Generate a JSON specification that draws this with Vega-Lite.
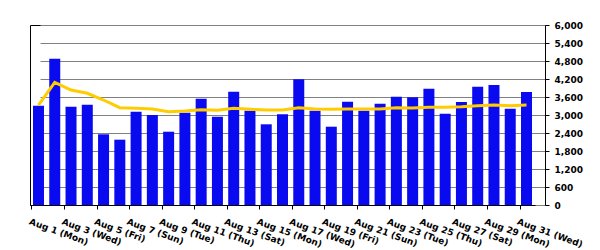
{
  "$schema": "https://vega.github.io/schema/vega-lite/v6.json",
  "width": 515,
  "height": 180,
  "autosize": "none",
  "padding": {"left": 30, "top": 25, "right": 55, "bottom": 45},
  "background": "white",
  "config": {"view": {"stroke": "black", "strokeWidth": 1}, "font": "DejaVu Sans"},
  "data": {"values": [
    {"day": "Aug 1 (Mon)", "visitors": 3310, "average": 3333},
    {"day": "Aug 2 (Tue)", "visitors": 4877, "average": 4090},
    {"day": "Aug 3 (Wed)", "visitors": 3277, "average": 3833},
    {"day": "Aug 4 (Thu)", "visitors": 3343, "average": 3723},
    {"day": "Aug 5 (Fri)", "visitors": 2357, "average": 3500},
    {"day": "Aug 6 (Sat)", "visitors": 2177, "average": 3243},
    {"day": "Aug 7 (Sun)", "visitors": 3110, "average": 3223},
    {"day": "Aug 8 (Mon)", "visitors": 3000, "average": 3200},
    {"day": "Aug 9 (Tue)", "visitors": 2443, "average": 3110},
    {"day": "Aug 10 (Wed)", "visitors": 3077, "average": 3133},
    {"day": "Aug 11 (Thu)", "visitors": 3543, "average": 3177},
    {"day": "Aug 12 (Fri)", "visitors": 2943, "average": 3157},
    {"day": "Aug 13 (Sat)", "visitors": 3777, "average": 3223},
    {"day": "Aug 14 (Sun)", "visitors": 3143, "average": 3190},
    {"day": "Aug 15 (Mon)", "visitors": 2690, "average": 3167},
    {"day": "Aug 16 (Tue)", "visitors": 3023, "average": 3167},
    {"day": "Aug 17 (Wed)", "visitors": 4190, "average": 3243},
    {"day": "Aug 18 (Thu)", "visitors": 3143, "average": 3200},
    {"day": "Aug 19 (Fri)", "visitors": 2610, "average": 3190},
    {"day": "Aug 20 (Sat)", "visitors": 3443, "average": 3200},
    {"day": "Aug 21 (Sun)", "visitors": 3143, "average": 3200},
    {"day": "Aug 22 (Mon)", "visitors": 3377, "average": 3200},
    {"day": "Aug 23 (Tue)", "visitors": 3610, "average": 3243},
    {"day": "Aug 24 (Wed)", "visitors": 3590, "average": 3233},
    {"day": "Aug 25 (Thu)", "visitors": 3877, "average": 3257},
    {"day": "Aug 26 (Fri)", "visitors": 3043, "average": 3257},
    {"day": "Aug 27 (Sat)", "visitors": 3433, "average": 3277},
    {"day": "Aug 28 (Sun)", "visitors": 3943, "average": 3310},
    {"day": "Aug 29 (Mon)", "visitors": 4000, "average": 3333},
    {"day": "Aug 30 (Tue)", "visitors": 3210, "average": 3310},
    {"day": "Aug 31 (Wed)", "visitors": 3767, "average": 3333}
  ]},
  "encoding": {
    "x": {
      "field": "day",
      "type": "ordinal",
      "sort": null,
      "scale": {"range": [0, 505], "paddingInner": 0.324, "paddingOuter": 0.184},
      "axis": {
        "title": null,
        "values": ["Aug 1 (Mon)", "Aug 3 (Wed)", "Aug 5 (Fri)", "Aug 7 (Sun)", "Aug 9 (Tue)", "Aug 11 (Thu)", "Aug 13 (Sat)", "Aug 15 (Mon)", "Aug 17 (Wed)", "Aug 19 (Fri)", "Aug 21 (Sun)", "Aug 23 (Tue)", "Aug 25 (Thu)", "Aug 27 (Sat)", "Aug 29 (Mon)", "Aug 31 (Wed)"],
        "labelAngle": 20,
        "labelAlign": "left",
        "labelBaseline": "top",
        "labelOffset": -1,
        "tickOffset": -7,
        "labelFont": "DejaVu Sans",
        "labelFontWeight": "bold",
        "labelFontSize": 9,
        "labelColor": "black",
        "labelPadding": 8,
        "tickSize": 4,
        "tickColor": "black",
        "domainColor": "black",
        "labelOverlap": false
      }
    }
  },
  "layer": [
    {
      "mark": {"type": "bar", "color": "#0a0af0"},
      "encoding": {
        "y": {
          "field": "visitors",
          "type": "quantitative",
          "title": null,
          "scale": {"domain": [0, 6000], "nice": false},
          "axis": {
            "orient": "right",
            "title": null,
            "values": [0, 600, 1200, 1800, 2400, 3000, 3600, 4200, 4800, 5400, 6000],
            "format": ",.0f",
            "labelFont": "DejaVu Sans",
            "labelFontWeight": "bold",
            "labelFontSize": 9,
            "labelColor": "black",
            "labelPadding": 5,
            "tickSize": 4,
            "tickColor": "black",
            "domainColor": "black",
            "grid": true,
            "gridColor": "#808080",
            "gridOpacity": 1
          }
        }
      }
    },
    {
      "mark": {"type": "line", "color": "#ffcc00", "strokeWidth": 3},
      "encoding": {
        "y": {
          "field": "average",
          "type": "quantitative",
          "title": null,
          "scale": {"domain": [0, 6000], "nice": false},
          "axis": {
            "orient": "right",
            "title": null,
            "values": [0, 600, 1200, 1800, 2400, 3000, 3600, 4200, 4800, 5400, 6000],
            "format": ",.0f",
            "labelFont": "DejaVu Sans",
            "labelFontWeight": "bold",
            "labelFontSize": 9,
            "labelColor": "black",
            "labelPadding": 5,
            "tickSize": 4,
            "tickColor": "black",
            "domainColor": "black",
            "grid": true,
            "gridColor": "#808080",
            "gridOpacity": 1
          }
        }
      }
    }
  ]
}
